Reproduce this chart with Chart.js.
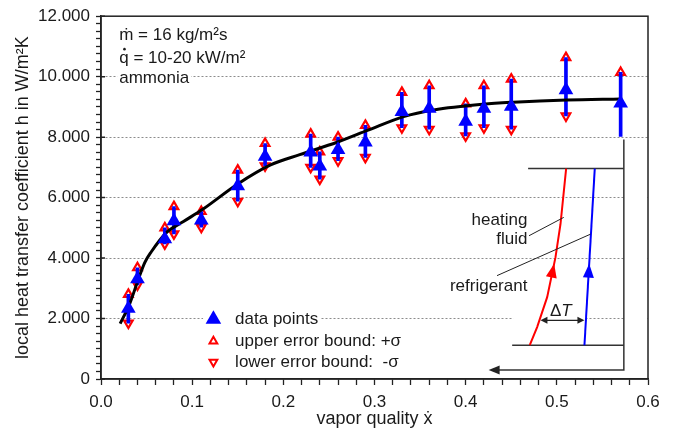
<!DOCTYPE html>
<html>
<head>
<meta charset="utf-8">
<script src="https://cdn.jsdelivr.net/npm/chart.js@4.4.0/dist/chart.umd.min.js"></script>
<style>
  body { margin: 0; background: #fff; }
  #wrap { width: 676px; height: 430px; }
</style>
</head>
<body>
<div id="wrap"><canvas id="chart" width="676" height="430"></canvas></div>
<script>
// vapor quality of each measurement
const quality = [0.03, 0.04, 0.07, 0.08, 0.11, 0.15, 0.18, 0.23, 0.24, 0.26, 0.29, 0.33, 0.36, 0.40, 0.42, 0.45, 0.51, 0.57];
// measured local heat transfer coefficient in W/m²K
const htc = [2330, 3310, 4630, 5230, 5250, 6380, 7360, 7500, 7040, 7580, 7830, 8840, 8950, 8520, 8950, 9010, 9560, 9120];
// +sigma / -sigma bounds
const upperBound = [2800, 3680, 5000, 5700, 5540, 6910, 7790, 8100, 7510, 8000, 8390, 9480, 9700, 9100, 9700, 9920, 10630, 10140];
const lowerBound = [1850, 3110, 4470, 4800, 5020, 5880, 7050, 7000, 6610, 7220, 7330, 8310, 8260, 8040, 8310, 8260, 8700, 8020];
// fitted curve
const fitX = [0.021, 0.031, 0.041, 0.048, 0.055, 0.072, 0.09, 0.112, 0.15, 0.186, 0.218, 0.259, 0.293, 0.332, 0.365, 0.419, 0.452, 0.511, 0.57];
const fitY = [1830, 2450, 3300, 3850, 4200, 4850, 5200, 5620, 6450, 7080, 7420, 7830, 8230, 8680, 8900, 9090, 9155, 9230, 9265];
// y values that get a label and a grid line
const yMajor = [0, 2000, 4000, 6000, 8000, 10000, 12000];

// sketch of the evaporator (in axis units)
const sketchRight = 0.5735, sketchTopY = 6960, sketchBottomY = 1118;
const sketchTopLeft = 0.4685, sketchBottomLeft = 0.451;
const frameTopY = 7923, returnY = 296, returnLeft = 0.4252;
const fluidX = [0.4703, 0.4784, 0.4894, 0.4985, 0.5040, 0.5102];
const fluidY = [1118, 1719, 2706, 4021, 5119, 6960];
const refrX = [0.5303, 0.5416];
const refrY = [1118, 6960];

const FONT = '"Liberation Sans", Arial, Helvetica, sans-serif';
const TEXT = '#1a1a1a';
Chart.defaults.font.family = FONT;
Chart.defaults.color = TEXT;

function fmtThousands(v) {
  return String(v).replace(/\B(?=(\d{3})+(?!\d))/g, '.');
}

function arrowHead(ctx, tipX, tipY, fromX, fromY, len, half) {
  const a = Math.atan2(tipY - fromY, tipX - fromX);
  ctx.beginPath();
  ctx.moveTo(tipX, tipY);
  ctx.lineTo(tipX - len * Math.cos(a) + half * Math.sin(a), tipY - len * Math.sin(a) - half * Math.cos(a));
  ctx.lineTo(tipX - len * Math.cos(a) - half * Math.sin(a), tipY - len * Math.sin(a) + half * Math.cos(a));
  ctx.closePath();
  ctx.fill();
}

// x on a polyline for a given y
function xAt(xs, ys, y) {
  for (let i = 1; i < ys.length; i++) {
    if (y <= ys[i]) {
      const t = (y - ys[i - 1]) / (ys[i] - ys[i - 1]);
      return xs[i - 1] + t * (xs[i] - xs[i - 1]);
    }
  }
  return xs[xs.length - 1];
}

function whiteBox(ctx, text, x, y, extraLeft) {
  const w = ctx.measureText(text).width;
  ctx.fillRect(x - 2 - (extraLeft || 0), y - 9, w + 4 + (extraLeft || 0), 18);
}

const sketchPlugin = {
  id: 'sketch',
  beforeDatasetsDraw(chart) {
    const {ctx, chartArea} = chart;
    const X = v => chart.scales.x.getPixelForValue(v);
    const Y = v => chart.scales.y.getPixelForValue(v);
    ctx.save();
    ctx.fillStyle = '#fff';
    ctx.fillRect(X(sketchRight) + 1, Y(7800), chartArea.right - X(sketchRight) - 2, Y(150) - Y(7800));
    ctx.fillRect(X(0.452), Y(2150), X(0.531) - X(0.452), Y(1750) - Y(2150));
    ctx.font = '17px ' + FONT;
    whiteBox(ctx, 'ammonia', X(0.02), Y(9962));
    whiteBox(ctx, 'data points', X(0.1471), Y(1973), 30);
    whiteBox(ctx, 'upper error bound: +σ', X(0.1471), Y(1249), 30);
    whiteBox(ctx, 'lower error bound:  -σ', X(0.1471), Y(559), 30);
    ctx.restore();
  },
  afterDatasetsDraw(chart) {
    const {ctx, chartArea} = chart;
    const X = v => chart.scales.x.getPixelForValue(v);
    const Y = v => chart.scales.y.getPixelForValue(v);
    ctx.save();

    // frame and inward major ticks
    ctx.strokeStyle = '#222';
    ctx.lineWidth = 1.5;
    ctx.strokeRect(chartArea.left, chartArea.top, chartArea.right - chartArea.left, chartArea.bottom - chartArea.top);
    ctx.beginPath();
    yMajor.forEach(v => {
      ctx.moveTo(chartArea.left, Y(v));
      ctx.lineTo(chartArea.left + 4, Y(v));
    });
    ctx.stroke();

    // evaporator sketch
    ctx.strokeStyle = '#333';
    ctx.lineWidth = 1.5;
    ctx.beginPath();
    ctx.moveTo(X(sketchTopLeft), Y(sketchTopY));
    ctx.lineTo(X(sketchRight), Y(sketchTopY));
    ctx.moveTo(X(sketchBottomLeft), Y(sketchBottomY));
    ctx.lineTo(X(sketchRight), Y(sketchBottomY));
    ctx.moveTo(X(sketchRight), Y(frameTopY));
    ctx.lineTo(X(sketchRight), Y(returnY));
    ctx.lineTo(X(returnLeft) + 8, Y(returnY));
    ctx.stroke();
    ctx.fillStyle = '#222';
    arrowHead(ctx, X(returnLeft), Y(returnY), X(sketchRight), Y(returnY), 11, 4.5);

    // heating fluid (red) and refrigerant (blue)
    ctx.lineWidth = 2;
    ctx.strokeStyle = '#ff0000';
    ctx.beginPath();
    fluidX.forEach((x, i) => i ? ctx.lineTo(X(x), Y(fluidY[i])) : ctx.moveTo(X(x), Y(fluidY[i])));
    ctx.stroke();
    ctx.strokeStyle = '#0000ff';
    ctx.beginPath();
    ctx.moveTo(X(refrX[0]), Y(refrY[0]));
    ctx.lineTo(X(refrX[1]), Y(refrY[1]));
    ctx.stroke();

    const tipY = 3814, baseY = 3380;
    ctx.fillStyle = '#ff0000';
    arrowHead(ctx, X(xAt(fluidX, fluidY, tipY)), Y(tipY), X(xAt(fluidX, fluidY, baseY)), Y(baseY), 14, 5.5);
    ctx.fillStyle = '#0000ff';
    arrowHead(ctx, X(xAt(refrX, refrY, tipY)), Y(tipY), X(xAt(refrX, refrY, baseY)), Y(baseY), 14, 5.5);

    // delta T
    const dtY = Y(1940), dtL = X(0.482), dtR = X(0.5303);
    ctx.strokeStyle = '#222';
    ctx.fillStyle = '#222';
    ctx.lineWidth = 1.2;
    ctx.beginPath();
    ctx.moveTo(dtL + 5, dtY);
    ctx.lineTo(dtR - 5, dtY);
    ctx.stroke();
    arrowHead(ctx, dtL, dtY, dtR, dtY, 7, 3.5);
    arrowHead(ctx, dtR, dtY, dtL, dtY, 7, 3.5);

    // leader lines
    ctx.lineWidth = 1;
    ctx.beginPath();
    ctx.moveTo(X(0.4695), Y(4739));
    ctx.lineTo(X(0.5076), Y(5345));
    ctx.moveTo(X(0.4344), Y(3419));
    ctx.lineTo(X(0.5369), Y(4790));
    ctx.stroke();

    ctx.fillStyle = TEXT;
    ctx.font = '17px ' + FONT;
    ctx.textBaseline = 'middle';
    ctx.textAlign = 'right';
    ctx.fillText('heating', X(0.4677), Y(5260));
    ctx.fillText('fluid', X(0.4677), Y(4636));
    ctx.fillText('refrigerant', X(0.4677), Y(3057));
    ctx.textAlign = 'left';
    const dX = X(0.4925);
    ctx.fillText('Δ', dX, Y(2235));
    const dW = ctx.measureText('Δ').width;
    ctx.font = 'italic 17px ' + FONT;
    ctx.fillText('T', dX + dW, Y(2235));

    // operating conditions
    ctx.font = '17px ' + FONT;
    const ax = X(0.02);
    ctx.fillText('ṁ = 16 kg/m²s', ax, Y(11375));
    ctx.fillText('q = 10-20 kW/m²', ax, Y(10596));
    // dot over q (combining dot is not in the font)
    const qw = ctx.measureText('q').width;
    ctx.beginPath();
    ctx.arc(ax + qw / 2 + 0.5, Y(10596) - 9.5, 1.3, 0, Math.PI * 2);
    ctx.fill();
    ctx.fillText('ammonia', ax, Y(9962));

    // legend
    const gx = X(0.1233);
    ctx.fillStyle = '#0000ff';
    Chart.helpers.drawPoint(ctx, {pointStyle: 'triangle', radius: 9, rotation: 0, borderWidth: 0}, gx, Y(1973));
    ctx.fillStyle = '#fff';
    ctx.strokeStyle = '#ff0000';
    ctx.lineWidth = 2;
    Chart.helpers.drawPoint(ctx, {pointStyle: 'triangle', radius: 4.5, rotation: 0, borderWidth: 2}, gx, Y(1249));
    Chart.helpers.drawPoint(ctx, {pointStyle: 'triangle', radius: 4.5, rotation: 180, borderWidth: 2}, gx, Y(559));
    ctx.fillStyle = TEXT;
    ctx.fillText('data points', X(0.1471), Y(1973));
    ctx.fillText('upper error bound: +σ', X(0.1471), Y(1249));
    ctx.fillText('lower error bound:  -σ', X(0.1471), Y(559));

    ctx.restore();
  }
};

const isMajorX = v => Math.abs(v * 10 - Math.round(v * 10)) < 1e-6;

new Chart(document.getElementById('chart'), {
  type: 'scatter',
  data: {
    datasets: [
      {
        label: 'data points',
        data: quality.map((x, i) => ({x, y: htc[i]})),
        pointStyle: 'triangle',
        pointRadius: 8.5,
        pointBackgroundColor: '#0000ff',
        pointBorderWidth: 0,
        order: 0
      },
      {
        type: 'line',
        label: 'fit',
        data: fitX.map((x, i) => ({x, y: fitY[i]})),
        borderColor: '#000',
        borderWidth: 3,
        pointRadius: 0,
        cubicInterpolationMode: 'monotone',
        fill: false,
        order: 1
      },
      {
        type: 'bar',
        label: 'error',
        data: quality.map((x, i) => ({x, y: [lowerBound[i], upperBound[i]]})),
        backgroundColor: '#0000ff',
        barThickness: 3,
        grouped: false,
        order: 2
      },
      {
        label: 'upper error bound',
        data: quality.map((x, i) => ({x, y: upperBound[i]})),
        pointStyle: 'triangle',
        pointRadius: 5,
        pointBackgroundColor: '#ffffff',
        pointBorderColor: '#ff0000',
        pointBorderWidth: 2.2,
        order: 3
      },
      {
        label: 'lower error bound',
        data: quality.map((x, i) => ({x, y: lowerBound[i]})),
        pointStyle: 'triangle',
        pointRotation: 180,
        pointRadius: quality.map((x, i) => i === quality.length - 1 ? 0 : 5),
        pointBackgroundColor: '#ffffff',
        pointBorderColor: '#ff0000',
        pointBorderWidth: 2.2,
        order: 3
      }
    ]
  },
  options: {
    responsive: false,
    animation: false,
    layout: { padding: { top: 14, right: 28, left: 0, bottom: 0 } },
    plugins: { legend: { display: false }, tooltip: { enabled: false } },
    scales: {
      x: {
        type: 'linear',
        min: 0,
        max: 0.6,
        offset: false,
        grid: { drawOnChartArea: false, offset: false, tickLength: 6, tickColor: '#222', tickWidth: 1.3 },
        border: { color: '#222', width: 1.5 },
        ticks: {
          stepSize: 0.02,
          autoSkip: false,
          maxRotation: 0,
          padding: 7,
          color: TEXT,
          font: { size: 17 },
          callback: v => isMajorX(v) ? v.toFixed(1) : ''
        },
        title: { display: true, text: 'vapor quality ẋ', color: TEXT, font: { size: 18 }, padding: { top: 0, bottom: 0 } },
        afterFit: s => { s.height = 51; }
      },
      y: {
        type: 'linear',
        min: 0,
        max: 12000,
        grid: {
          color: c => (c.tick && yMajor.includes(c.tick.value) && c.tick.value > 0 && c.tick.value < 12000) ? '#8c8c8c' : 'rgba(0,0,0,0)',
          lineWidth: 1,
          tickLength: 5,
          tickColor: '#222',
          tickWidth: 1.3
        },
        border: { color: '#222', width: 1.5, dash: [2, 2] },
        ticks: {
          stepSize: 250,
          autoSkip: false,
          padding: 6,
          color: TEXT,
          font: { size: 17 },
          callback: v => yMajor.includes(v) ? fmtThousands(v) : ''
        },
        title: { display: true, text: 'local heat transfer coefficient h in W/m²K', color: TEXT, font: { size: 18 }, padding: { top: 12, bottom: 0 } },
        afterFit: s => { s.width = 101; }
      }
    }
  },
  plugins: [sketchPlugin]
});
</script>
</body>
</html>
